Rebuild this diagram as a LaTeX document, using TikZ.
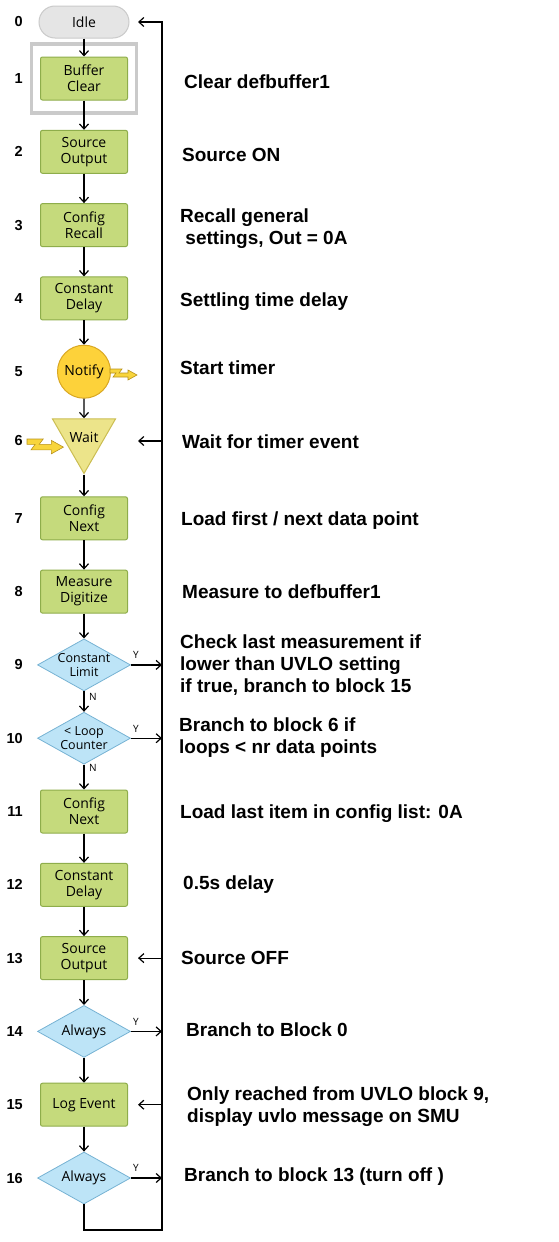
\documentclass[tikz,border=0pt]{standalone}
\usepackage{fontspec}
\setmainfont{Liberation Sans}
\newfontfamily\blkfont{Open Sans}
\usetikzlibrary{shapes.geometric, positioning, arrows.meta, fit}

\definecolor{blkgreen}{HTML}{C5DA7C}
\definecolor{blkgreenline}{HTML}{8EAD4B}
\definecolor{decblue}{HTML}{BDE4F7}
\definecolor{decblueline}{HTML}{76B2D3}
\definecolor{notifyfill}{HTML}{FDD23A}
\definecolor{notifyline}{HTML}{D9A722}
\definecolor{waitfill}{HTML}{ECE48A}
\definecolor{waitline}{HTML}{CBBD52}
\definecolor{idlefill}{HTML}{E5E5E5}
\definecolor{idleline}{HTML}{CACACA}
\definecolor{boltfill}{HTML}{F8D53C}
\definecolor{boltline}{HTML}{B8921A}

\tikzset{
    block/.style = {draw=blkgreenline, fill=blkgreen, rounded corners=2pt, line width=1pt,
        minimum width=87pt, minimum height=43pt, inner sep=0pt, align=center,
        font=\blkfont\fontsize{14}{16}\selectfont},
    decision/.style = {diamond, aspect=1.79, draw=decblueline, fill=decblue, line width=0.8pt,
        minimum width=93pt, minimum height=52pt, inner sep=-9pt, align=center,
        font=\blkfont\fontsize{12.5}{14}\selectfont},
    idlebox/.style = {draw=idleline, fill=idlefill, rounded corners=16pt, line width=1pt,
        minimum width=90pt, minimum height=32pt, font=\blkfont\fontsize{14}{16}\selectfont},
    notify/.style = {circle, draw=notifyline, fill=notifyfill, line width=1pt,
        minimum size=53pt, inner sep=0pt, font=\blkfont\fontsize{14}{16}\selectfont},
    waitbox/.style = {regular polygon, regular polygon sides=3, shape border rotate=180,
        draw=waitline, fill=waitfill, line width=1pt, minimum size=73pt, inner sep=-8pt,
        font=\blkfont\fontsize{14}{16}\selectfont},
    frame/.style = {draw=idleline, line width=3.3pt, inner xsep=8.5pt, inner ysep=12.5pt},
    desc/.style = {anchor=north west, inner sep=0pt, align=left,
        font=\bfseries\fontsize{19}{22}\selectfont},
    rownum/.style = {anchor=east, inner sep=0pt, font=\bfseries\fontsize{14.5}{16}\selectfont},
    yn/.style = {font=\blkfont\fontsize{10}{12}\selectfont, inner sep=1.5pt},
    flow/.style = {-{Straight Barb[length=5pt, width=9pt]}, line width=1.2pt},
    bolt/.pic = {
        \filldraw[fill=boltfill, draw=boltline, line width=0.6pt]
            (0,0) -- (12,0) -- (9,4) -- (18,4) -- (18,1) -- (27,6)
            -- (18,11) -- (18,8) -- (3,8) -- (6,4) -- (0,4) -- cycle;
    }
}

\begin{document}
\begin{tikzpicture}[x=1pt, y=-1pt, node distance=73.3pt]
    \useasboundingbox (0,0) rectangle (558,1242);

    % main column
    \node[idlebox] (idle) at (84,22) {Idle};
    \node[block] (bc) [node distance=56.5pt, below of = idle] {Buffer\\Clear};
    \node[block] (so) [below of = bc] {Source\\Output};
    \node[block] (cr) [below of = so] {Config\\Recall};
    \node[block] (cd) [below of = cr] {Constant\\Delay};
    \node[notify] (nt) [below of = cd] {Notify};
    \node[waitbox] (wt) [below of = nt, yshift=8pt] {Wait};
    \node[block] (cn) [node distance=146.6pt, below of = nt] {Config\\Next};
    \node[block] (md) [below of = cn] {Measure\\Digitize};
    \node[decision] (cl) [below of = md] {Constant\\Limit};
    \node[decision] (lc) [below of = cl] {< Loop\\Counter};
    \node[block] (cn2) [below of = lc] {Config\\Next};
    \node[block] (cd2) [below of = cn2] {Constant\\Delay};
    \node[block] (so2) [below of = cd2] {Source\\Output};
    \node[decision, font=\blkfont\fontsize{14}{16}\selectfont] (aw) [below of = so2] {Always};
    \node[block] (le) [below of = aw] {Log Event};
    \node[decision, font=\blkfont\fontsize{14}{16}\selectfont] (aw2) [below of = le] {Always};

    \node[frame, fit=(bc)] (bcf) {};

    % row numbers
    \coordinate (numcol) at (23,0);
    \node[rownum] (n0) at (numcol |- idle) {0};
    \node[rownum] (n1) at (numcol |- bc) {1};
    \node[rownum] (n2) at (numcol |- so) {2};
    \node[rownum] (n3) at (numcol |- cr) {3};
    \node[rownum] (n4) at (numcol |- cd) {4};
    \node[rownum] (n5) at (numcol |- nt) {5};
    \node[rownum] (n6) at (23,441) {6};
    \node[rownum] (n7) at (numcol |- cn) {7};
    \node[rownum] (n8) at (numcol |- md) {8};
    \node[rownum] (n9) at (numcol |- cl) {9};
    \node[rownum] (n10) at (numcol |- lc) {10};
    \node[rownum] (n11) at (numcol |- cn2) {11};
    \node[rownum] (n12) at (numcol |- cd2) {12};
    \node[rownum] (n13) at (numcol |- so2) {13};
    \node[rownum] (n14) at (numcol |- aw) {14};
    \node[rownum] (n15) at (numcol |- le) {15};
    \node[rownum] (n16) at (numcol |- aw2) {16};

    % descriptions
    \node[desc] (d1) at (184,75) {Clear defbuffer1};
    \node[desc] (d2) at (182,148) {Source ON};
    \node[desc] (d3) at (180,209) {Recall general\\\ settings, Out = 0A};
    \node[desc] (d4) at (180,293) {Settling time delay};
    \node[desc] (d5) at (180,361) {Start timer};
    \node[desc] (d6) at (182,435) {Wait for timer event};
    \node[desc] (d7) at (181,512) {Load first / next data point};
    \node[desc] (d8) at (182,585) {Measure to defbuffer1};
    \node[desc] (d9) at (180,635) {Check last measurement if\\lower than UVLO setting\\if true, branch to block 15};
    \node[desc] (d10) at (179,718) {Branch to block 6 if\\loops < nr data points};
    \node[desc] (d11) at (180,805) {Load last item in config list: 0A};
    \node[desc] (d12) at (183,876) {0.5s delay};
    \node[desc] (d13) at (181,951) {Source OFF};
    \node[desc] (d14) at (186,1023) {Branch to Block 0};
    \node[desc] (d15) at (187,1087) {Only reached from UVLO block 9,\\display uvlo message on SMU};
    \node[desc] (d16) at (184,1168) {Branch to block 13 (turn off )};

    % event bolts
    \pic at (110,369) {bolt};
    \pic[scale=1.35] at (27,439) {bolt};

    % bus on the right
    \coordinate (bustop) at (162,22);
    \coordinate (busbot) at (162,1230);
    \coordinate (tipcol) at (138,0);

    \path[flow]
        (idle) edge (bc)
        (bc) edge (so)
        (so) edge (cr)
        (cr) edge (cd)
        (cd) edge (nt)
        (nt) edge (wt)
        (wt.corner 1) edge (cn)
        (cn) edge (md)
        (md) edge (cl)
        (cl) edge node[yn, right, pos=0.25, xshift=3pt] {N} (lc)
        (lc) edge node[yn, right, pos=0.14, xshift=3pt] {N} (cn2)
        (cn2) edge (cd2)
        (cd2) edge (so2)
        (so2) edge (aw)
        (aw) edge (le)
        (le) edge (aw2)

        (cl.east) edge node[yn, above right, pos=0, yshift=4pt] {Y} (cl.east -| bustop)
        (lc.east) edge node[yn, above right, pos=0, yshift=4pt] {Y} (lc.east -| bustop)
        (aw.east) edge node[yn, above right, pos=0, yshift=4pt] {Y} (aw.east -| bustop)
        (aw2.east) edge node[yn, above right, pos=0, yshift=4pt] {Y} (aw2.east -| bustop)

        (bustop |- n6) edge (tipcol |- n6)
        (bustop |- so2) edge (tipcol |- so2)
        (bustop |- le) edge (tipcol |- le)
        ;

    \draw[flow] (aw2.south) |- (busbot) -- (bustop) -- (tipcol |- idle);
\end{tikzpicture}
\end{document}
